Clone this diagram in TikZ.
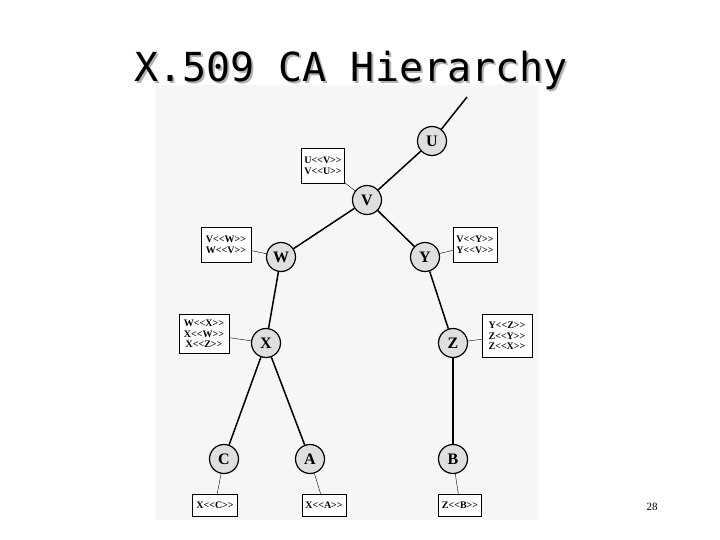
\documentclass[tikz,border=0pt]{standalone}
\usepackage{fontspec}
\setmainfont{Liberation Serif}
\newfontfamily\titlefont{DejaVu Sans Mono}
\newcommand{\cLL}{{<}{<}}
\newcommand{\cGG}{{>}{>}}
\begin{document}
\begin{tikzpicture}[x=1pt,y=-1pt,
  ca/.style={circle,draw,line width=1.2pt,fill=gray!25,minimum size=29pt,inner sep=0pt,font=\bfseries\fontsize{16}{16}\selectfont},
  cert/.style={draw,fill=white,line width=0.5pt,font=\bfseries\fontsize{10}{10.5}\selectfont,align=center,inner sep=1pt},
  edge/.style={line width=1.5pt},
  thin/.style={line width=0.4pt}]
\useasboundingbox (0,0) rectangle (720,540);
\fill[white] (0,0) rectangle (720,540);
\fill[gray!7] (155,85) rectangle (538,520);
\node[font=\titlefont\fontsize{40}{40}\selectfont,text=gray!60] at (353,72) {X.509 CA Hierarchy};
\node (title) [font=\titlefont\fontsize{40}{40}\selectfont] at (351,70) {X.509 CA Hierarchy};
\node (pg) [font=\fontsize{11}{11}\selectfont] at (652,507) {28};
\node[ca] (U) at (432,141) {U};
\node[ca] (V) at (367,200) {V};
\node[ca] (W) at (281,257) {W};
\node[ca] (Y) at (425,257) {Y};
\node[ca] (X) at (266,343) {X};
\node[ca] (Z) at (453,343) {Z};
\node[ca] (C) at (224,459) {C};
\node[ca] (A) at (310,459) {A};
\node[ca] (B) at (453,459) {B};
\coordinate (top) at (467,97);
\node[cert,minimum height=35pt,minimum width=43pt] (cUV) at (323,166) {U\cLL V\cGG\\V\cLL U\cGG};
\node[cert,minimum height=35pt,minimum width=50pt] (cVW) at (226,245) {V\cLL W\cGG\\W\cLL V\cGG};
\node[cert,minimum height=35pt,minimum width=44pt] (cVY) at (475,245) {V\cLL Y\cGG\\Y\cLL V\cGG};
\node[cert,minimum height=39pt,minimum width=50pt] (cWX) at (204,334) {W\cLL X\cGG\\X\cLL W\cGG\\X\cLL Z\cGG};
\node[cert,minimum height=43pt,minimum width=50pt] (cYZ) at (507,336) {Y\cLL Z\cGG\\Z\cLL Y\cGG\\Z\cLL X\cGG};
\node[cert,minimum height=22pt,minimum width=45pt] (cXC) at (215,505) {X\cLL C\cGG};
\node[cert,minimum height=22pt,minimum width=44pt] (cXA) at (324,505) {X\cLL A\cGG};
\node[cert,minimum height=22pt,minimum width=43pt] (cZB) at (460,505) {Z\cLL B\cGG};
\draw[edge] (top) -- (U);
\draw[edge] (U) -- (V);
\draw[edge] (V) -- (W);
\draw[edge] (V) -- (Y);
\draw[edge] (W) -- (X);
\draw[edge] (Y) -- (Z);
\draw[edge] (X) -- (C);
\draw[edge] (X) -- (A);
\draw[edge] (Z) -- (B);
\draw[thin] (cUV) -- (V);
\draw[thin] (cVW) -- (W);
\draw[thin] (cVY) -- (Y);
\draw[thin] (cWX) -- (X);
\draw[thin] (cYZ) -- (Z);
\draw[thin] (cXC) -- (C);
\draw[thin] (cXA) -- (A);
\draw[thin] (cZB) -- (B);
\end{tikzpicture}
\end{document}
